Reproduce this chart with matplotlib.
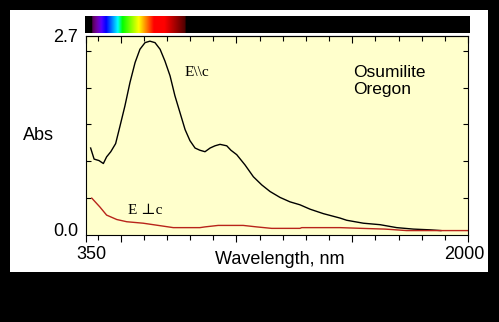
#!/usr/bin/python
# -*- coding: utf-8 -*-

# Osumilite (Oregon) : spectre d'absorption polarise, E||c et E perp c

import numpy as np
import matplotlib
matplotlib.use("Agg")
import matplotlib.pyplot as plt
from matplotlib.patches import Rectangle
from matplotlib.ticker import MultipleLocator
import matplotlib.transforms as mtransforms

#----------------------------------------------------------------------------------------------------------
# Donnees
#-------------------------

wl_par = [370, 385, 406, 425, 439, 457, 478, 497, 518, 540, 562, 583, 605, 626, 648, 670, 691,
          713, 734, 756, 778, 799, 821, 842, 864, 886, 907, 929, 958, 976, 1001, 1037, 1073,
          1109, 1145, 1188, 1231, 1274, 1318, 1375, 1447, 1476, 1548, 1620, 1692, 1764, 1836, 1883]
abs_par = [1.18, 1.03, 1.01, 0.97, 1.06, 1.13, 1.24, 1.48, 1.75, 2.07, 2.34, 2.52, 2.61, 2.63,
           2.61, 2.52, 2.36, 2.16, 1.89, 1.66, 1.43, 1.28, 1.18, 1.15, 1.13, 1.18, 1.21, 1.23,
           1.21, 1.15, 1.09, 0.95, 0.79, 0.68, 0.59, 0.51, 0.45, 0.41, 0.35, 0.29, 0.23, 0.20,
           0.16, 0.14, 0.10, 0.08, 0.07, 0.06]

wl_perp = [375, 410, 439, 483, 526, 597, 684, 727, 842, 864, 921, 1029, 1087, 1152, 1274, 1282,
           1447, 1541, 1642, 1735, 2000]
abs_perp = [0.50, 0.38, 0.27, 0.21, 0.18, 0.16, 0.12, 0.10, 0.10, 0.11, 0.13, 0.13, 0.11, 0.09,
            0.09, 0.10, 0.10, 0.09, 0.08, 0.06, 0.06]

x_labels = ["350", "", "", "", "2000"]
x_major = [350, 500, 1000, 1500, 2000]
y_major = [0.0, 2.7]
y_labels = ["0.0", "2.7"]

#----------------------------------------------------------------------------------------------------------
# Couleur du spectre visible (approximation de Bruton)
#-------------------------

def wl_to_rgb(w):
	if 380 <= w < 440:
		r, g, b = -(w - 440) / 60., 0., 1.
	elif 440 <= w < 490:
		r, g, b = 0., (w - 440) / 50., 1.
	elif 490 <= w < 510:
		r, g, b = 0., 1., -(w - 510) / 20.
	elif 510 <= w < 580:
		r, g, b = (w - 510) / 70., 1., 0.
	elif 580 <= w < 645:
		r, g, b = 1., -(w - 645) / 65., 0.
	elif 645 <= w <= 780:
		r, g, b = 1., 0., 0.
	else:
		r, g, b = 0., 0., 0.
	# attenuation aux bords
	if 380 <= w < 420:
		f = 0.3 + 0.7 * (w - 380) / 40.
	elif 690 < w <= 780:
		f = 0.3 + 0.7 * (780 - w) / 90.
	elif 380 <= w <= 780:
		f = 1.
	else:
		f = 0.
	return (r * f, g * f, b * f)

W, H = 499, 322
fig = plt.figure(figsize=(W / 100., H / 100.), dpi=100, facecolor="black")

# cadre blanc (derriere les axes)
fig.patches.append(Rectangle((10. / W, 50. / H), 478. / W, 262. / H, transform=fig.transFigure,
                             facecolor="white", edgecolor="none", zorder=-5))

ax = fig.add_axes([86. / W, 87. / H, 382. / W, 199. / H])
ax.set_facecolor("#ffffcc")

ax.plot(wl_par, abs_par, color="black", lw=1.0)
ax.plot(wl_perp, abs_perp, color="#b8241a", lw=1.0)

ax.set_xlim(350, 2000)
ax.set_ylim(0, 2.7)

ax.set_xticks(x_major)
ax.set_xticklabels(x_labels)
ax.xaxis.set_minor_locator(MultipleLocator(100))
ax.set_yticks(y_major)
ax.set_yticklabels(y_labels)
ax.yaxis.set_minor_locator(MultipleLocator(0.5))

# en bas : graduations vers l'exterieur
ax.tick_params(axis="x", which="both", bottom=True, top=False, labelsize=13, pad=3, width=0.8)
ax.tick_params(axis="x", which="major", length=5)
ax.tick_params(axis="x", which="minor", length=3.5)
ax.tick_params(axis="y", which="both", left=True, right=True, direction="in", labelsize=13,
               pad=5.5, width=0.8)
ax.tick_params(axis="y", which="major", length=0)
ax.tick_params(axis="y", which="minor", length=3.5)

# en haut : graduations vers l'interieur
sec = ax.secondary_xaxis("top")
sec.set_xticks(x_major)
sec.set_xticklabels([])
sec.xaxis.set_minor_locator(MultipleLocator(100))
sec.tick_params(axis="x", which="both", direction="in", width=0.8)
sec.tick_params(axis="x", which="major", length=5)
sec.tick_params(axis="x", which="minor", length=3.5)
sec.spines["top"].set_linewidth(0.8)

for t in ax.get_xticklabels() + ax.get_yticklabels():
	t.set_family("Liberation Sans")

# petits decalages des etiquettes comme sur l'original
lx = ax.get_xticklabels()
lx[0].set_transform(lx[0].get_transform() + mtransforms.ScaledTranslation(0.05, 0, fig.dpi_scale_trans))
lx[-1].set_transform(lx[-1].get_transform() + mtransforms.ScaledTranslation(-0.04, 0, fig.dpi_scale_trans))
ly = ax.get_yticklabels()
ly[0].set_transform(ly[0].get_transform() + mtransforms.ScaledTranslation(0, 0.05, fig.dpi_scale_trans))

for s in ax.spines.values():
	s.set_linewidth(0.8)

# textes
ax.text(99. / 382, 1 - 37. / 199, "E\\\\c", transform=ax.transAxes, fontsize=11,
        family=["Liberation Serif", "DejaVu Serif"], va="center", ha="left")
ax.text(42. / 382, 1 - 174. / 199, "E \u22a5c", transform=ax.transAxes, fontsize=11,
        family=["Liberation Serif", "DejaVu Serif"], va="center", ha="left")
ax.text(267. / 382, 1 - 45. / 199, "Osumilite\nOregon", transform=ax.transAxes, fontsize=12.5,
        family="Liberation Sans", va="center", ha="left", linespacing=1.15)

fig.text(38. / W, 1 - 136. / H, "Abs", fontsize=13, family="Liberation Sans", ha="center", va="center")
fig.text(280. / W, 1 - 260. / H, "Wavelength, nm", fontsize=13, family="Liberation Sans",
         ha="center", va="center")

# bande spectrale en haut
axb = fig.add_axes([85. / W, 1 - 33. / H, 385. / W, 17. / H])
wl = np.linspace(350, 2000, 800)
img = np.array([[wl_to_rgb(w) for w in wl]])
axb.imshow(img, aspect="auto", extent=(350, 2000, 0, 1))
axb.set_axis_off()

fig.savefig("out.png", dpi=100, facecolor=fig.get_facecolor())
